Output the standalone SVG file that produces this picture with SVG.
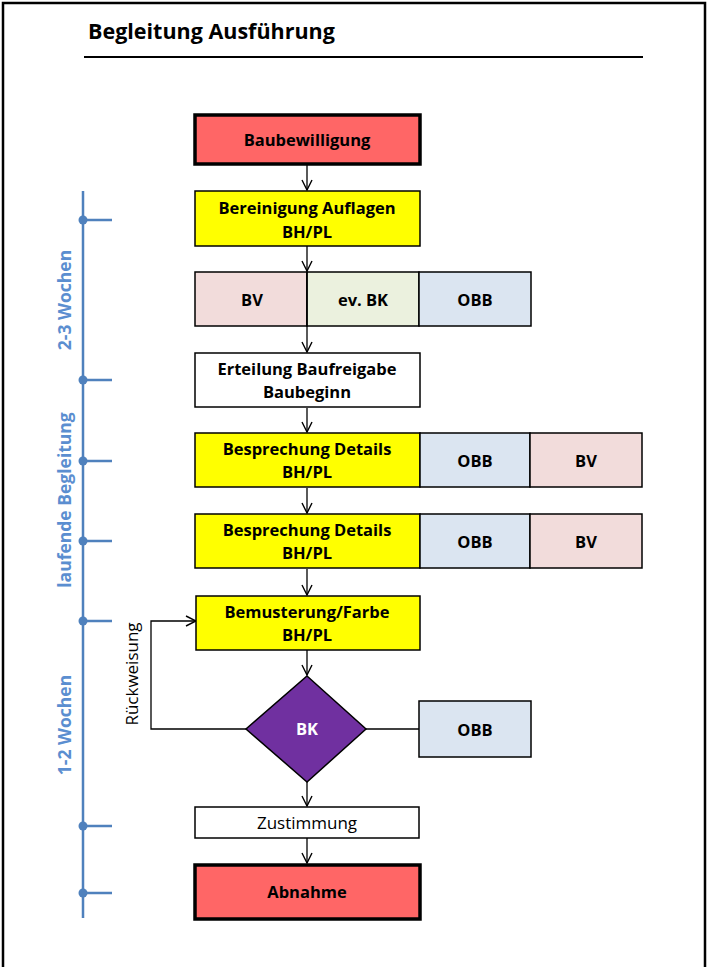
<svg xmlns="http://www.w3.org/2000/svg" width="709" height="967" viewBox="0 0 709 967">
<defs>
<marker id="arr" viewBox="0 0 12 12" refX="11" refY="6" markerWidth="12" markerHeight="12" markerUnits="userSpaceOnUse" orient="auto">
<path d="M1,1 L11,6 L1,11" fill="none" stroke="#000" stroke-width="1.4"/>
</marker>
</defs>
<style>
.box{stroke:#000;stroke-width:1.5}
.thick{stroke:#000;stroke-width:3.5}
.t{font-family:"Open Sans","Liberation Sans",sans-serif;font-weight:bold;font-size:16.5px;text-anchor:middle;fill:#000}
.n{font-family:"Open Sans","Liberation Sans",sans-serif;font-size:17px;text-anchor:middle;fill:#000}
.tl{stroke:#4F81BD;stroke-width:2.5;fill:none}
.dot{fill:#4F81BD}
.tll{font-family:"Open Sans","Liberation Sans",sans-serif;font-weight:bold;font-size:17.5px;text-anchor:middle;fill:#5B8ED0}
.c{stroke:#000;stroke-width:1.3;fill:none}
.ca{stroke:#000;stroke-width:1.3;fill:none;marker-end:url(#arr)}
</style>
<rect width="709" height="967" fill="#fff"/>
<path d="M3,967 V3 H705 V967" fill="none" stroke="#000" stroke-width="2.5"/>
<text x="88" y="39" font-family="Open Sans, Liberation Sans, sans-serif" font-weight="bold" font-size="21.5" fill="#000">Begleitung Ausführung</text>
<line x1="84" y1="57" x2="643" y2="57" stroke="#000" stroke-width="2"/>

<g id="timeline">
<line class="tl" x1="83" y1="191" x2="83" y2="918"/>
<g class="dot">
<circle cx="83" cy="220" r="4.5"/><circle cx="83" cy="380" r="4.5"/><circle cx="83" cy="461" r="4.5"/><circle cx="83" cy="541" r="4.5"/><circle cx="83" cy="621" r="4.5"/><circle cx="83" cy="826" r="4.5"/><circle cx="83" cy="893" r="4.5"/>
</g>
<path class="tl" d="M83,220 H112 M83,380 H112 M83,461 H112 M83,541 H112 M83,621 H112 M83,826 H112 M83,893 H112"/>
<text class="tll" transform="translate(71,300) rotate(-90)">2-3 Wochen</text>
<text class="tll" transform="translate(71,500) rotate(-90)">laufende Begleitung</text>
<text class="tll" transform="translate(71,725) rotate(-90)">1-2 Wochen</text>
</g>

<g id="connectors">
<line class="ca" x1="307" y1="165" x2="307" y2="190"/>
<line class="ca" x1="307" y1="246" x2="307" y2="271"/>
<line class="ca" x1="307" y1="272" x2="307" y2="352"/>
<line class="ca" x1="307" y1="408" x2="307" y2="432"/>
<line class="ca" x1="307" y1="488" x2="307" y2="513"/>
<line class="ca" x1="307" y1="569" x2="307" y2="595"/>
<line class="ca" x1="307" y1="650" x2="307" y2="675"/>
<line class="ca" x1="307" y1="782" x2="307" y2="806"/>
<line class="ca" x1="307" y1="838" x2="307" y2="863"/>
<path class="ca" d="M246,729 H151 V621 H196"/>
<line class="c" x1="366" y1="729" x2="419" y2="729"/>
<text class="n" transform="translate(138,674) rotate(-90)">Rückweisung</text>
</g>

<g id="baubewilligung">
<rect class="thick" x="195" y="115" width="225" height="49" fill="#FF6666"/>
<text class="t" x="307" y="146">Baubewilligung</text>
</g>
<g id="bereinigung">
<rect class="box" x="195" y="191" width="225" height="55" fill="#FFFF00"/>
<text class="t" x="307" y="214">Bereinigung Auflagen</text>
<text class="t" x="307" y="238">BH/PL</text>
</g>
<g id="row1">
<rect class="box" x="195" y="272" width="112" height="54" fill="#F2DCDB"/>
<rect class="box" x="307" y="272" width="112" height="54" fill="#EBF1DE"/>
<rect class="box" x="419" y="272" width="112" height="54" fill="#DBE5F1"/>
<text class="t" x="252" y="306">BV</text>
<text class="t" x="363" y="306">ev. BK</text>
<text class="t" x="475" y="306">OBB</text>
</g>
<line class="c" x1="307" y1="272" x2="307" y2="326"/>
<g id="erteilung">
<rect class="box" x="195" y="353" width="225" height="54" fill="#FFFFFF"/>
<text class="t" x="307" y="375">Erteilung Baufreigabe</text>
<text class="t" x="307" y="398">Baubeginn</text>
</g>
<g id="besprechung1">
<rect class="box" x="195" y="433" width="225" height="54" fill="#FFFF00"/>
<rect class="box" x="420" y="433" width="110" height="54" fill="#DBE5F1"/>
<rect class="box" x="530" y="433" width="112" height="54" fill="#F2DCDB"/>
<text class="t" x="307" y="455">Besprechung Details</text>
<text class="t" x="307" y="478">BH/PL</text>
<text class="t" x="475" y="467">OBB</text>
<text class="t" x="586" y="467">BV</text>
</g>
<g id="besprechung2">
<rect class="box" x="195" y="514" width="225" height="54" fill="#FFFF00"/>
<rect class="box" x="420" y="514" width="110" height="54" fill="#DBE5F1"/>
<rect class="box" x="530" y="514" width="112" height="54" fill="#F2DCDB"/>
<text class="t" x="307" y="536">Besprechung Details</text>
<text class="t" x="307" y="559">BH/PL</text>
<text class="t" x="475" y="548">OBB</text>
<text class="t" x="586" y="548">BV</text>
</g>
<g id="bemusterung">
<rect class="box" x="196" y="596" width="224" height="54" fill="#FFFF00"/>
<text class="t" x="307" y="618">Bemusterung/Farbe</text>
<text class="t" x="307" y="641">BH/PL</text>
</g>
<g id="bk">
<polygon class="box" points="307,676 366,729 307,782 246,729" fill="#7030A0"/>
<text class="t" x="307" y="735" style="fill:#fff">BK</text>
</g>
<g id="obb2">
<rect class="box" x="419" y="701" width="112" height="56" fill="#DBE5F1"/>
<text class="t" x="475" y="736">OBB</text>
</g>
<g id="zustimmung">
<rect class="box" x="195" y="807" width="224" height="31" fill="#FFFFFF"/>
<text class="n" x="307" y="829">Zustimmung</text>
</g>
<g id="abnahme">
<rect class="thick" x="195" y="865" width="225" height="54" fill="#FF6666"/>
<text class="t" x="307" y="898">Abnahme</text>
</g>
</svg>
